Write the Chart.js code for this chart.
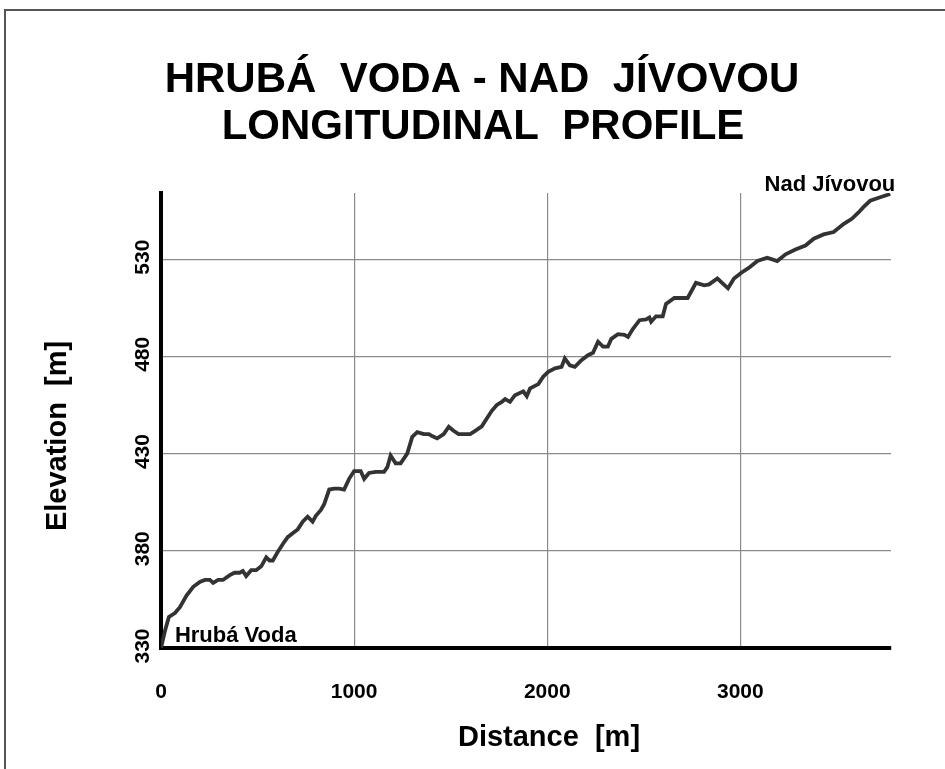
<!DOCTYPE html>
<html>
<head>
<meta charset="utf-8">
<title>Hrubá Voda - Nad Jívovou longitudinal profile</title>
<script src="https://cdn.jsdelivr.net/npm/chart.js@4.4.1/dist/chart.umd.min.js"></script>
<style>
  html, body { margin: 0; padding: 0; background: #fff; }
  #wrap { position: relative; width: 945px; height: 769px; }
</style>
</head>
<body>
<div id="wrap"><canvas id="profileChart"></canvas></div>
<script>
const distance = [
  0, 21, 41, 72, 98, 132, 167, 201, 227, 253, 270, 296, 321, 356, 381, 407, 424, 441, 467, 493,
  519, 545, 562, 579, 605, 631, 656, 682, 708, 734, 759, 785, 802, 828, 845, 871, 897, 923, 948, 974,
  1000, 1034, 1052, 1077, 1112, 1155, 1172, 1189, 1215, 1241, 1275, 1301, 1327, 1361, 1387, 1404, 1430, 1464, 1490, 1515,
  1541, 1601, 1627, 1661, 1687, 1713, 1739, 1765, 1782, 1807, 1833, 1876, 1894, 1911, 1954, 1979, 2005, 2040, 2074, 2091,
  2117, 2143, 2177, 2211, 2237, 2263, 2289, 2314, 2332, 2366, 2400, 2418, 2443, 2478, 2512, 2529, 2538, 2563, 2598, 2615,
  2658, 2727, 2770, 2813, 2838, 2881, 2936, 2967, 3005, 3045, 3088, 3139, 3191, 3234, 3285, 3337, 3380, 3431, 3483, 3534,
  3577, 3612, 3637, 3672, 3724, 3776
];

const elevation = [
  330, 339, 346, 348, 351, 357, 361.5, 364, 365, 365, 363.5, 365, 365, 367.5, 368.7, 368.7, 369.6, 367, 370, 370,
  372, 376.6, 375, 375, 379.5, 383.5, 387, 389, 391, 395, 397.5, 395, 398, 401, 404, 411.5, 412, 412, 411.5, 417,
  421, 421, 417, 420, 420.6, 420.6, 423, 429, 425, 425, 430, 438.6, 441, 440, 440, 439, 437.8, 440, 443.8, 441.7,
  440, 440, 441.7, 444, 448, 452, 455, 456.6, 458, 456.6, 460, 462, 459.5, 463.5, 465.7, 469.5, 472, 473.8, 474.6, 478.9,
  475.4, 474.6, 478, 480.6, 481.8, 487.5, 485, 485, 489, 491.4, 491, 490, 494, 498.6, 499, 500, 497.8, 500.6, 500.6, 507,
  510, 510, 517.8, 516.5, 517, 520, 515, 520, 523, 525.6, 529, 530.7, 529, 532.5, 534.9, 537, 540.5, 542.7, 543.9, 548,
  550.7, 554, 556.7, 560, 561.8, 563.5
];

const xTickValues = [0, 1000, 2000, 3000];
const yTickValues = [330, 380, 430, 480, 530];

const titleLines = ["HRUBÁ  VODA - NAD  JÍVOVOU", "LONGITUDINAL  PROFILE"];
const xAxisTitle = "Distance  [m]";
const yAxisTitle = "Elevation  [m]";
const endLabels = ["Hrubá Voda", "Nad Jívovou"];

const FONT = '"Liberation Sans", Arial, Helvetica, sans-serif';

// titles, tick labels, end labels and the frame are drawn by hand
const textPlugin = {
  id: "profileText",
  afterDraw(chart) {
    const { ctx, scales } = chart;
    const xs = scales.x;
    const ys = scales.y;

    ctx.save();
    ctx.fillStyle = "#000";

    ctx.font = `bold 42px ${FONT}`;
    ctx.textAlign = "center";
    ctx.textBaseline = "alphabetic";
    ctx.fillText(titleLines[0], 482, 92);
    ctx.fillText(titleLines[1], 483, 139);

    ctx.font = `bold 21px ${FONT}`;
    ctx.textBaseline = "middle";
    xTickValues.forEach((v) => {
      ctx.fillText(String(v), xs.getPixelForValue(v), 692);
    });
    yTickValues.forEach((v) => {
      ctx.save();
      ctx.translate(143, ys.getPixelForValue(v) - 2);
      ctx.rotate(-Math.PI / 2);
      ctx.fillText(String(v), 0, 0);
      ctx.restore();
    });

    ctx.font = `bold 29px ${FONT}`;
    ctx.fillText(xAxisTitle, 549, 738);
    ctx.save();
    ctx.translate(58, 436);
    ctx.rotate(-Math.PI / 2);
    ctx.fillText(yAxisTitle, 0, 0);
    ctx.restore();

    ctx.font = `bold 22px ${FONT}`;
    ctx.textAlign = "left";
    ctx.textBaseline = "alphabetic";
    ctx.fillText(endLabels[0], xs.getPixelForValue(72), ys.getPixelForValue(333));
    ctx.fillText(endLabels[1], xs.getPixelForValue(3125), ys.getPixelForValue(565));

    ctx.strokeStyle = "#555";
    ctx.lineWidth = 2;
    ctx.strokeRect(5, 10, 1000, 1000);
    ctx.restore();
  },
};

const ctx = document.getElementById("profileChart").getContext("2d");
new Chart(ctx, {
  type: "line",
  data: {
    datasets: [
      {
        label: "Elevation",
        data: distance.map((d, i) => ({ x: d, y: elevation[i] })),
        borderColor: "#333",
        borderWidth: 3.8,
        pointRadius: 0,
        tension: 0,
        fill: false,
      },
    ],
  },
  options: {
    responsive: true,
    maintainAspectRatio: false,
    animation: false,
    layout: {
      padding: { left: 161, right: 54, top: 193, bottom: 121 },
    },
    plugins: {
      legend: { display: false },
      title: { display: false },
      tooltip: { enabled: false },
    },
    scales: {
      x: {
        type: "linear",
        min: 0,
        max: 3780,
        afterBuildTicks: (scale) => {
          scale.ticks = xTickValues.map((v) => ({ value: v }));
        },
        ticks: { display: false },
        grid: { color: "#8a8a8a", lineWidth: 1.2, drawTicks: false },
        border: { color: "#000", width: 4 },
      },
      y: {
        type: "linear",
        min: 330,
        max: 564,
        afterBuildTicks: (scale) => {
          scale.ticks = yTickValues.map((v) => ({ value: v }));
        },
        ticks: { display: false },
        grid: { color: "#8a8a8a", lineWidth: 1.2, drawTicks: false },
        border: { color: "#000", width: 4 },
      },
    },
  },
  plugins: [textPlugin],
});
</script>
</body>
</html>
